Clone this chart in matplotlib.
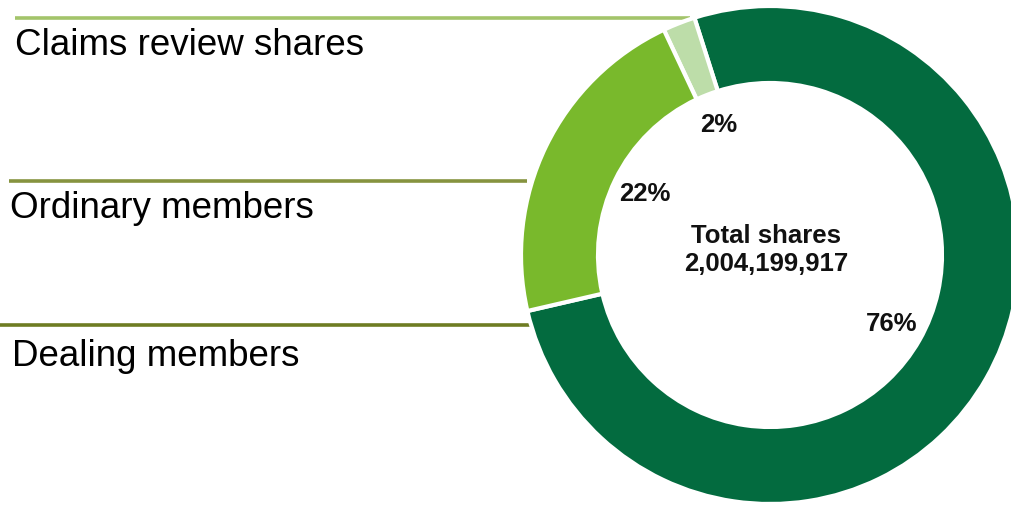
import matplotlib
matplotlib.use("Agg")
import matplotlib.pyplot as plt

# share split (percent of total shares)
segments = ["Dealing members", "Claims review shares", "Ordinary members"]
shares = [76.3, 2.1, 21.6]
seg_colors = ["#036b3f", "#bddda9", "#79b92c"]

# left-hand labels, top to bottom
side_labels = ["Claims review shares", "Ordinary members", "Dealing members"]
side_line_colors = ["#a3c46a", "#86933f", "#6e7c22"]

total_text = "Total shares\n2,004,199,917"

plt.rcParams["font.family"] = ["Liberation Sans", "DejaVu Sans"]

W, H = 1012, 505
fig = plt.figure(figsize=(W / 100, H / 100), dpi=100)
ax = fig.add_axes([0, 0, 1, 1])

cx, cy = 770, H - 255
R, r = 249, 172

wedges, texts, pcts = ax.pie(
    shares,
    colors=seg_colors,
    startangle=193,
    counterclock=True,
    center=(cx, cy),
    radius=R,
    autopct="%.0f%%",
    pctdistance=0.56,
    wedgeprops=dict(width=R - r, edgecolor="white", linewidth=3),
    textprops=dict(fontsize=18.5, fontweight="bold", color="#111111"),
    frame=True,
)
ax.set_xlim(0, W)
ax.set_ylim(0, H)
ax.set_aspect("equal")
ax.axis("off")

ax.text(cx - 4, cy + 5, total_text, ha="center", va="center",
        fontsize=18.5, fontweight="bold", color="#111111", linespacing=1.2)

# horizontal leader lines with labels below
line_y = [18, 181, 325]
line_x0 = [15, 9, 0]
line_x1 = [690, 527, 530]
text_x = [15, 10, 12]
text_base = [55, 218, 366]
for lab, col, ly, x0, x1, tx, tb in zip(side_labels, side_line_colors, line_y,
                                        line_x0, line_x1, text_x, text_base):
    ax.plot([x0, x1], [H - ly, H - ly], color=col, linewidth=2.6,
            solid_capstyle="butt", zorder=0)
    ax.text(tx, H - tb, lab, ha="left", va="baseline", fontsize=26.5,
            color="#000000")

fig.savefig("out.png", dpi=100)
